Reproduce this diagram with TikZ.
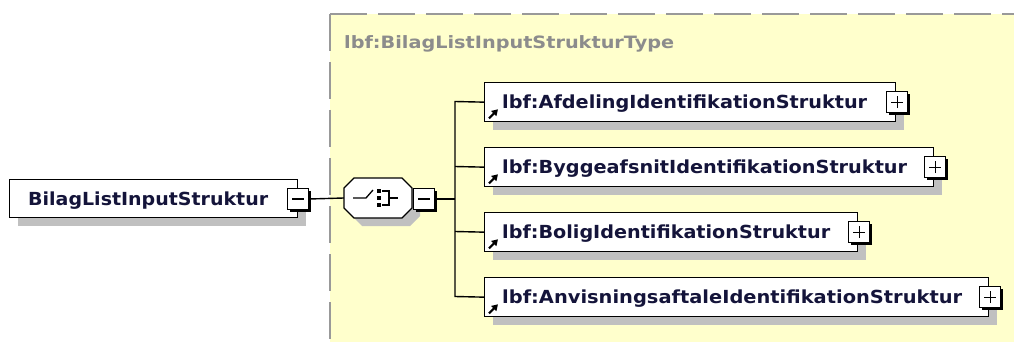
\documentclass[tikz,border=0pt]{standalone}
\usepackage{fontspec}
\setmainfont{DejaVu Sans}
\usetikzlibrary{shadows,arrows.meta}
\definecolor{ybg}{HTML}{FFFFCC}
\definecolor{shd}{HTML}{C0C0C0}
\definecolor{dashc}{HTML}{999999}
\definecolor{txt}{HTML}{14143A}
\definecolor{ttl}{HTML}{8C8C8C}
\newcommand\fitx[2]{\sbox0{#2}\pgfmathsetmacro\fitsx{#1/\wd0}\scalebox{\fitsx}[1]{\usebox0}}
\begin{document}
\begin{tikzpicture}[x=1pt,y=-1pt,
  elem/.style={draw=black, line width=1.3pt, fill=white, inner sep=0pt, anchor=north west,
    general shadow={fill=shd, shadow xshift=8pt, shadow yshift=-8pt}},
  pmbox/.style={draw=black, line width=1.2pt, fill=white, minimum size=21pt, inner sep=0pt,
    general shadow={fill=black, shadow xshift=2pt, shadow yshift=-2pt}},
  lbl/.style={anchor=base west, inner sep=0pt, text=txt, font=\fontsize{18}{20}\bfseries},
  conn/.style={draw=black, line width=1.4pt},
  sign/.style={draw=black, line width=1.2pt},
  icon/.style={-{Triangle[length=6pt,width=7pt]}, line width=2.2pt, draw=black}
]
\useasboundingbox (0,0) rectangle (1014,342);
% type background
\fill[ybg] (330,14) rectangle (1014,342);
\draw[dashc, line width=2pt, dash pattern=on 37pt off 11pt] (330,14) -- (330,342);
\draw[dashc, line width=2pt, dash pattern=on 37pt off 11pt] (330,14) -- (1014,14);
\node[anchor=base west, inner sep=0pt, text=ttl, font=\fontsize{17}{19}\bfseries] (title) at (344,49)
  {\fitx{330}{lbf:BilagListInputStrukturType}};

% main element
\node[elem, minimum width=288pt, minimum height=38pt] (main) at (9,179) {};
\node[lbl] (mainlbl) at (28,205) {\fitx{240}{BilagListInputStruktur}};
\node[pmbox] (mainm) at (298,199) {};
\draw[sign] ([xshift=-6pt]mainm.center) -- ([xshift=6pt]mainm.center);

% sequence (octagon)
\node[minimum width=68pt, minimum height=40pt, inner sep=0pt] (seq) at (378,198) {};
\fill[shd] (362,186) -- (410,186) -- (420,196) -- (420,216) -- (410,226) -- (362,226) -- (352,216) -- (352,196) -- cycle;
\draw[line width=1.3pt, fill=white] (354,178) -- (402,178) -- (412,188) -- (412,208) -- (402,218) -- (354,218) -- (344,208) -- (344,188) -- cycle;
\node[pmbox] (seqm) at (424,199) {};
\draw[sign] ([xshift=-6pt]seqm.center) -- ([xshift=6pt]seqm.center);
% sequence icon
\draw[line width=1.3pt] (353,198) -- (366,198) -- (373,190);
\fill (377,189) rectangle (381,193);
\fill (377,196) rectangle (381,200);
\fill (377,203) rectangle (381,207);
\draw[line width=1.3pt] (382,191) -- (389,191) -- (389,205) -- (382,205);
\draw[line width=1.3pt] (389,198) -- (398,198);

\draw[conn] (mainm.east) -- (seq.west);

% children
\node[elem, minimum width=411pt, minimum height=39pt] (c1) at (484,82) {};
\node[elem, minimum width=449pt, minimum height=39pt] (c2) at (484,147) {};
\node[elem, minimum width=373pt, minimum height=39pt] (c3) at (484,212) {};
\node[elem, minimum width=504pt, minimum height=39pt] (c4) at (484,277) {};

\node[lbl] (l1) at (502,108.5) {\fitx{365}{lbf:AfdelingIdentifikationStruktur}};
\node[lbl] (l2) at (502,173.5) {\fitx{405}{lbf:ByggeafsnitIdentifikationStruktur}};
\node[lbl] (l3) at (502,238.5) {\fitx{328}{lbf:BoligIdentifikationStruktur}};
\node[lbl] (l4) at (502,303.5) {\fitx{460}{lbf:AnvisningsaftaleIdentifikationStruktur}};

\foreach \c in {c1,c2,c3,c4}{
  \draw[icon] ([shift={(5,-4)}]\c.south west) -- ([shift={(14,-13)}]\c.south west);
  \node[pmbox] (\c p) at ([xshift=1pt]\c.east) {};
  \draw[sign] ([xshift=-6pt]\c p.center) -- ([xshift=6pt]\c p.center);
  \draw[sign] ([yshift=-6pt]\c p.center) -- ([yshift=6pt]\c p.center);
}

% connectors
\coordinate (b1) at (455,101.5);
\coordinate (b2) at (455,166.5);
\coordinate (b3) at (455,231.5);
\coordinate (b4) at (455,296.5);
\coordinate (bm) at (455,199);
\draw[conn] (seqm.east) -- (bm);
\draw[conn] (c1.west) -- (b1) -- (b4) -- (c4.west);
\draw[conn] (b2) -- (c2.west);
\draw[conn] (b3) -- (c3.west);
\end{tikzpicture}
\end{document}
